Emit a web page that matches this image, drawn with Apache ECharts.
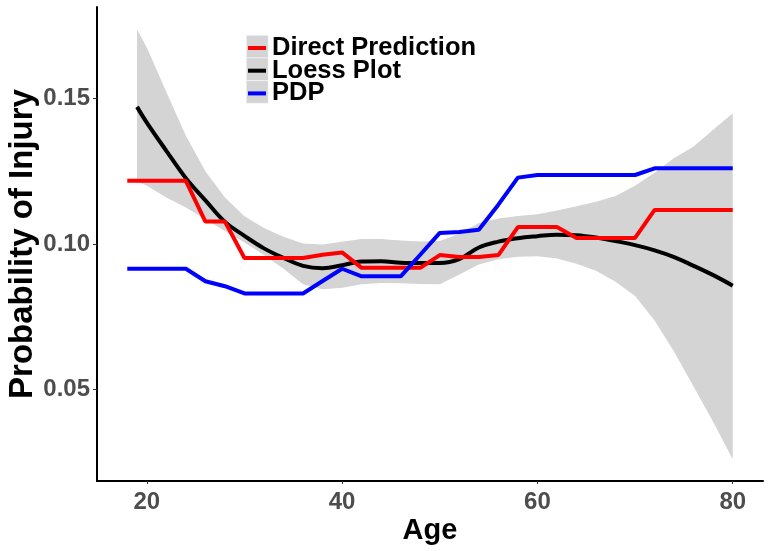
<!DOCTYPE html>
<html>
<head>
<meta charset="utf-8">
<script src="https://cdn.jsdelivr.net/npm/echarts@6/dist/echarts.min.js"></script>
<style>
html,body{margin:0;padding:0;background:#fff;}
#chart{width:772px;height:551px;}
</style>
</head>
<body>
<div id="chart"></div>
<script>
// ---- data ----
const stepAges = [18,20,22,24,26,28,30,32,34,36,38,40,42,44,46,48,50,52,54,56,58,60,62,64,66,68,70,72,74,76,78,80];
const directPrediction = [0.1217,0.1217,0.1217,0.1217,0.1077,0.1077,0.0952,0.0952,0.0952,0.0952,0.0963,0.0971,0.0918,0.0918,0.0918,0.0918,0.0962,0.0955,0.0955,0.0962,0.1058,0.1058,0.1058,0.1021,0.1021,0.1021,0.1021,0.1117,0.1117,0.1117,0.1117,0.1117];
const pdp = [0.0915,0.0915,0.0915,0.0915,0.0872,0.0855,0.0830,0.0830,0.0830,0.0830,0.0873,0.0915,0.0889,0.0889,0.0889,0.0963,0.1038,0.1041,0.1049,0.1135,0.1228,0.1237,0.1237,0.1237,0.1237,0.1237,0.1237,0.1260,0.1260,0.1260,0.1260,0.1260];

const loessAges = [19,20,22,24,26,28,30,32,34,36,38,40,42,44,46,48,50,52,54,56,58,60,62,64,66,68,70,72,74,76,78,80];
const loess = [0.1471,0.1417,0.1320,0.1226,0.1150,0.1076,0.1028,0.0985,0.0952,0.0925,0.0917,0.0927,0.0940,0.0941,0.0936,0.0935,0.0935,0.0948,0.0988,0.1008,0.1020,0.1027,0.1032,0.1030,0.1022,0.1010,0.0996,0.0978,0.0955,0.0925,0.0893,0.0857];
const bandUpper = [0.1737,0.1675,0.1522,0.1372,0.1250,0.1160,0.1095,0.1055,0.1025,0.1002,0.0998,0.1008,0.1017,0.1017,0.1012,0.1009,0.1010,0.1035,0.1072,0.1088,0.1096,0.1102,0.1115,0.1130,0.1145,0.1165,0.1200,0.1245,0.1295,0.1335,0.1392,0.1449];
const bandLower = [0.1215,0.1200,0.1160,0.1125,0.1085,0.1045,0.1005,0.0962,0.0915,0.0862,0.0845,0.0850,0.0862,0.0866,0.0865,0.0863,0.0862,0.0895,0.0930,0.0948,0.0956,0.0958,0.0950,0.0932,0.0908,0.0870,0.0821,0.0737,0.0630,0.0510,0.0389,0.0261];

const xTicks = [20,40,60,80];
const yTicks = [0.05,0.10,0.15];
const seriesNames = ['Direct Prediction','Loess Plot','PDP'];

// ---- build ----
const pairs = (xs, ys) => xs.map((x,i)=>[x, ys[i]]);
const FONT = "'Liberation Sans', Arial, sans-serif";
const BAND = '#d4d4d4';

function renderBand(params, api){
  const pts = [];
  for (let i=0;i<loessAges.length;i++) pts.push(api.coord([loessAges[i], bandUpper[i]]));
  for (let i=loessAges.length-1;i>=0;i--) pts.push(api.coord([loessAges[i], bandLower[i]]));
  return {type:'polygon', shape:{points:pts}, style:{fill:BAND, stroke:null}, silent:true};
}

const chart = echarts.init(document.getElementById('chart'), null, {renderer:'canvas'});
chart.setOption({
  animation:false,
  backgroundColor:'#ffffff',
  grid:{left:97, right:9, top:7, bottom:70, containLabel:false, outerBoundsMode:'none'},
  xAxis:{
    type:'value', min:14.9, max:83.1,
    name:'Age', nameLocation:'middle', nameGap:35, nameMoveOverlap:false,
    nameTextStyle:{fontFamily:FONT, fontWeight:'bold', fontSize:29, color:'#000'},
    axisLine:{show:true, onZero:false, lineStyle:{color:'#000', width:2}},
    axisTick:{show:true, length:3, lineStyle:{color:'#333', width:1}, customValues:xTicks},
    axisLabel:{fontFamily:FONT, fontWeight:'bold', fontSize:24, color:'#4d4d4d', margin:9, customValues:xTicks},
    splitLine:{show:false}
  },
  yAxis:{
    type:'value', min:0.0186, max:0.1814,
    name:'Probability of Injury', nameLocation:'middle', nameGap:58, nameRotate:90, nameMoveOverlap:false,
    nameTextStyle:{fontFamily:FONT, fontWeight:'bold', fontSize:33, color:'#000'},
    axisLine:{show:true, onZero:false, lineStyle:{color:'#000', width:2}},
    axisTick:{show:true, length:4, lineStyle:{color:'#333', width:1}, customValues:yTicks},
    axisLabel:{fontFamily:FONT, fontWeight:'bold', fontSize:24, color:'#4d4d4d', margin:7, customValues:yTicks,
      formatter:v=>Number(v).toFixed(2)},
    splitLine:{show:false}
  },
  legend:{
    data:seriesNames, orient:'vertical', left:248, top:35,
    icon:'rect', itemWidth:18, itemHeight:4, itemGap:-3.3,
    textStyle:{fontFamily:FONT, fontWeight:'bold', fontSize:25.5, color:'#000', padding:[0,0,0,1]},
    padding:0, z:10
  },
  graphic:[
    {type:'group', left:246, top:35, z:1, children:[
      {type:'rect', shape:{x:0,y:0,width:22,height:22.7}, style:{fill:BAND, stroke:'#ffffff', lineWidth:0.5}},
      {type:'rect', shape:{x:0,y:22.7,width:22,height:22.7}, style:{fill:BAND, stroke:'#ffffff', lineWidth:0.5}},
      {type:'rect', shape:{x:0,y:45.4,width:22,height:22.7}, style:{fill:BAND, stroke:'#ffffff', lineWidth:0.5}}
    ]}
  ],
  series:[
    {name:'band', type:'custom', renderItem:renderBand, data:[[loessAges[0], bandLower[0]]], silent:true, z:1,
      clip:true, encode:{x:0, y:1}},
    {name:'Loess Plot', type:'line', data:pairs(loessAges, loess), symbol:'none', smooth:0.4,
      color:'#000000', lineStyle:{color:'#000000', width:4}, z:3},
    {name:'Direct Prediction', type:'line', data:pairs(stepAges, directPrediction), symbol:'none',
      color:'#ff0000', lineStyle:{color:'#ff0000', width:4}, z:4},
    {name:'PDP', type:'line', data:pairs(stepAges, pdp), symbol:'none',
      color:'#0000ff', lineStyle:{color:'#0000ff', width:4}, z:5}
  ]
});
</script>
</body>
</html>
